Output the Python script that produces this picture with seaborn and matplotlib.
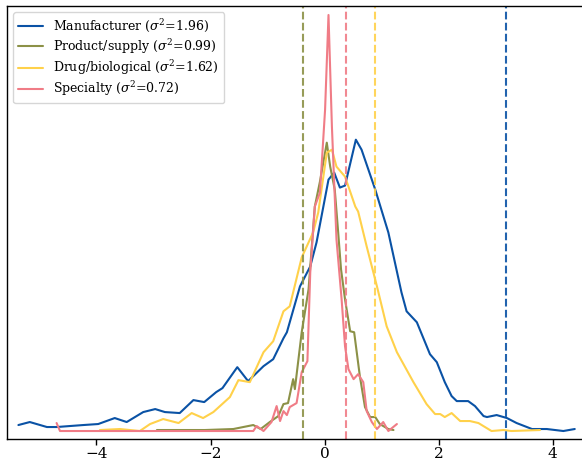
import pandas as pd
import seaborn as sns
import matplotlib
matplotlib.use("Agg")
import matplotlib.pyplot as plt

sns.set_theme(style="white")
plt.rcParams["font.family"] = ["DejaVu Serif"]
plt.rcParams["mathtext.fontset"] = "dejavuserif"
plt.rcParams["text.color"] = "black"
plt.rcParams["xtick.color"] = "black"

# density curves (arbitrary units)
manuf_x = [-5.37, -5.17, -4.87, -4.70, -4.23, -3.97, -3.68, -3.47, -3.18, -2.97,
           -2.80, -2.54, -2.30, -2.11, -1.90, -1.79, -1.53, -1.34, -1.07, -0.90,
           -0.72, -0.66, -0.43, -0.25, -0.14, 0.07, 0.17, 0.27, 0.36, 0.55,
           0.65, 0.89, 1.12, 1.35, 1.44, 1.62, 1.85, 1.97, 2.11, 2.23,
           2.32, 2.52, 2.64, 2.79, 2.85, 3.02, 3.20, 3.37, 3.64, 3.90, 4.19, 4.39]
manuf_y = [14, 17, 12, 12, 14, 15, 21, 17, 27, 30,
           27, 26, 39, 37, 47, 51, 72, 58, 73, 80,
           101, 107, 153, 173, 197, 260, 267, 252, 254, 300,
           290, 250, 207, 147, 128, 117, 85, 77, 57, 43,
           38, 38, 33, 23, 22, 24, 21, 16, 10, 10, 8, 10]

drug_x = [-3.94, -3.59, -3.24, -3.06, -2.83, -2.56, -2.33, -2.13, -1.95, -1.66,
          -1.51, -1.31, -1.07, -0.90, -0.72, -0.61, -0.40, -0.20, -0.11, 0.04,
          0.13, 0.21, 0.36, 0.54, 0.59, 0.74, 0.92, 1.09, 1.27, 1.56,
          1.79, 1.94, 2.03, 2.11, 2.23, 2.38, 2.55, 2.70, 2.93, 3.14, 3.28, 3.78]
drug_y = [9, 10, 8, 15, 20, 16, 26, 21, 27, 42,
          59, 57, 87, 98, 128, 133, 182, 207, 227, 287,
          290, 273, 263, 233, 228, 193, 153, 113, 87, 57,
          35, 25, 25, 22, 26, 18, 18, 16, 8, 9, 8, 9]

prod_x = [-2.94, -2.50, -2.10, -1.60, -1.25, -1.12, -0.96, -0.81, -0.72, -0.64,
          -0.55, -0.52, -0.40, -0.28, -0.17, -0.08, 0.04, 0.10, 0.18, 0.24,
          0.29, 0.36, 0.45, 0.52, 0.62, 0.71, 0.80, 0.89, 0.97, 1.12, 1.21]
prod_y = [9, 9, 9, 10, 14, 10, 17, 23, 35, 36,
          60, 50, 107, 150, 233, 258, 297, 273, 250, 207,
          170, 140, 108, 107, 63, 32, 22, 22, 15, 10, 9]

spec_x = [-4.70, -4.64, -1.25, -1.19, -1.07, -0.93, -0.84, -0.78, -0.72, -0.66,
          -0.61, -0.49, -0.40, -0.30, -0.25, -0.17, -0.08, 0.01, 0.07, 0.13,
          0.21, 0.30, 0.36, 0.42, 0.51, 0.59, 0.68, 0.74, 0.83, 0.92,
          1.03, 1.12, 1.27]
spec_y = [16, 8, 8, 13, 8, 17, 33, 18, 28, 24,
          32, 36, 67, 78, 167, 233, 247, 330, 425, 313,
          200, 140, 93, 70, 60, 65, 57, 28, 17, 10,
          17, 8, 15]

labels = [r"Manufacturer ($\sigma^2$=1.96)", r"Product/supply ($\sigma^2$=0.99)",
          r"Drug/biological ($\sigma^2$=1.62)", r"Specialty ($\sigma^2$=0.72)"]
colors = ["#0a52a5", "#8c9147", "#ffd14a", "#f07c86"]
vlines = [3.18, -0.37, 0.89, 0.375]

series = [(manuf_x, manuf_y), (prod_x, prod_y), (drug_x, drug_y), (spec_x, spec_y)]
frames = []
for lab, (xs, ys) in zip(labels, series):
    frames.append(pd.DataFrame({"x": xs, "y": ys, "group": lab}))
df = pd.concat(frames, ignore_index=True)

fig = plt.figure(figsize=(5.82, 4.63), dpi=100)
ax = fig.add_axes([7 / 582, 24 / 463, 1.0, 433 / 463])

sns.lineplot(data=df, x="x", y="y", hue="group", hue_order=labels,
             palette=dict(zip(labels, colors)), linewidth=1.5, sort=False,
             estimator=None, ax=ax)

for v, c in zip(vlines, colors):
    ax.axvline(v, color=c, linestyle="--", linewidth=1.5, alpha=0.9)

ax.set_xlim(-5.57, 4.64)
ax.set_ylim(0, 434)
ax.set_yticks([])
ax.set_xticks([-4, -2, 0, 2, 4])
ax.set_xlabel("")
ax.set_ylabel("")
ax.tick_params(axis="x", bottom=True, length=4, width=1, labelsize=11, pad=1.5,
               colors="black")
for s in ax.spines.values():
    s.set_color("black")
    s.set_linewidth(1.0)

leg = ax.legend(loc="upper left", fontsize=9, frameon=True, labelspacing=0.2,
                borderaxespad=0.5)
leg.get_frame().set_edgecolor("#cccccc")

fig.savefig("out.png", dpi=100)
